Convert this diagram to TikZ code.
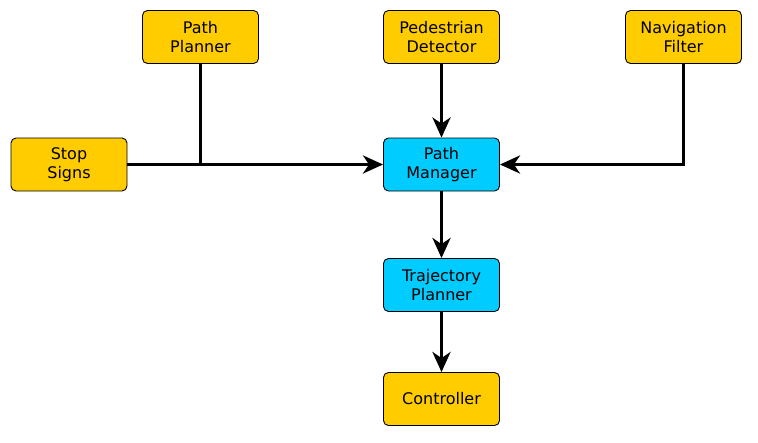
\documentclass[tikz,border=0pt]{standalone}
\usepackage{fontspec}
\setmainfont{DejaVu Sans}
\usepackage{tikz}
\usetikzlibrary{arrows.meta, positioning}
\definecolor{pmyellow}{RGB}{255,204,0}
\definecolor{pmcyan}{RGB}{0,204,255}
\tikzset{
  %% ---- boxes ----
  unit/.style   = {rectangle, rounded corners=5pt,
                   draw=black, line width=0.9pt,
                   fill=#1, text width=108pt, align=center,
                   minimum width=116pt, minimum height=53pt,
                   inner sep=0pt, font=\fontsize{16}{19.5}\selectfont},
  unit/.default = pmyellow,
  %% ---- arrows ----
  arrow/.style  = {-{Stealth[length=20pt, width=18pt, inset=6pt]},
                   line width=3.7pt, color=black},
  feed/.style   = {line width=3.7pt, color=black},
}
\begin{document}
\begin{tikzpicture}[x=1pt, y=-1pt]
  \useasboundingbox (0,0) rectangle (758,442);

  %% Sources
  \node[unit] (pathplan) at (200.5,37)   {Path\\Planner};
  \node[unit] (pedest)   at (441.5,37)   {Pedestrian\\Detector};
  \node[unit] (navfilt)  at (683.5,37)   {Navigation\\Filter};
  \node[unit] (stops)    at (69,164.5)   {Stop\\Signs};

  %% Path manager chain
  \node[unit=pmcyan] (pathman) at (441.5,164.5) {Path\\Manager};
  \node[unit=pmcyan] (traj)    at (441.5,285)   {Trajectory\\Planner};
  \node[unit]        (ctrl)    at (441.5,399)   {Controller};

  %% Connectors
  \draw[arrow] (stops.east) -- (pathman.west);
  \draw[feed]  (pathplan.south) -- (pathplan.south |- stops.east);
  \draw[arrow] (pedest.south) -- (pathman.north);
  \draw[arrow] (navfilt.south) |- (pathman.east);
  \draw[arrow] (pathman.south) -- (traj.north);
  \draw[arrow] (traj.south) -- (ctrl.north);

\end{tikzpicture}
\end{document}
